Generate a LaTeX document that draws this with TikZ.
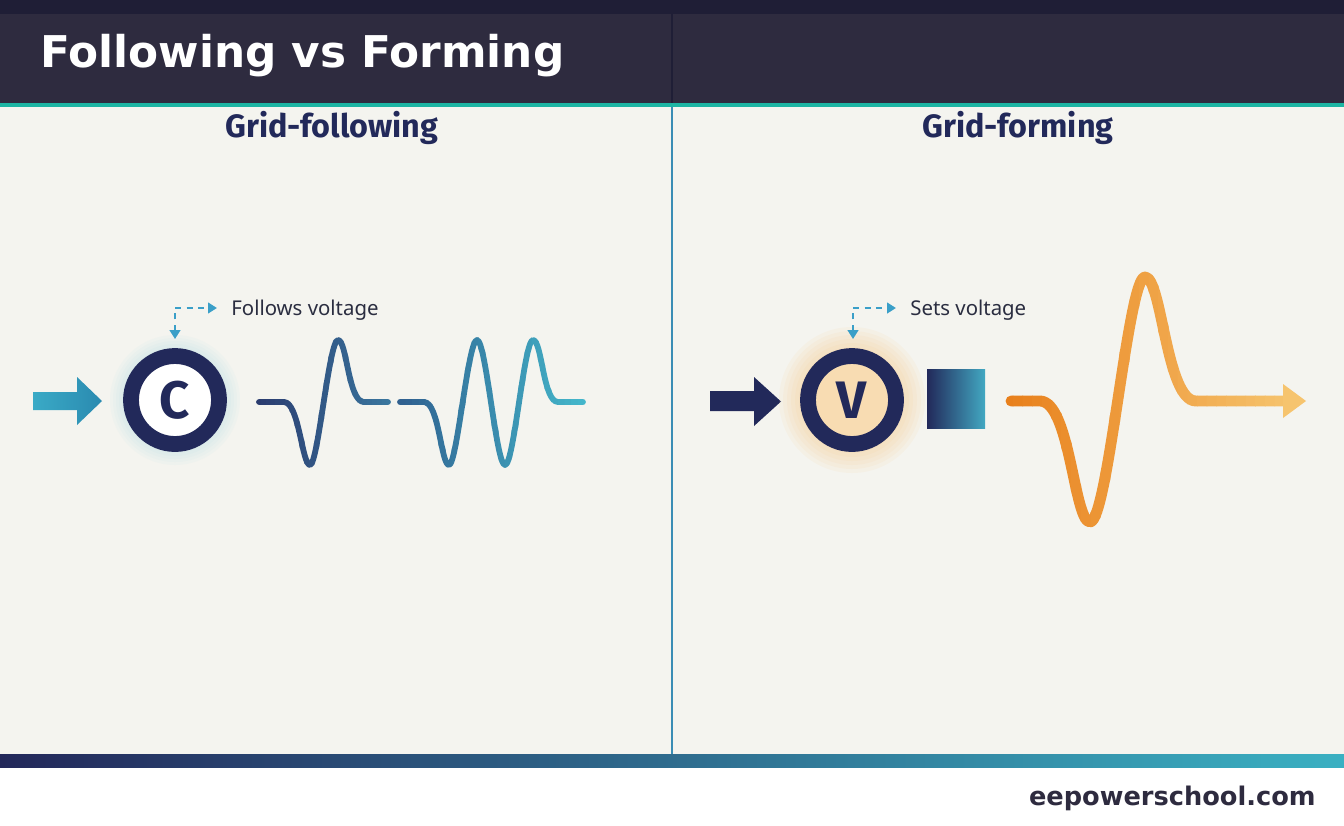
\documentclass[tikz,border=0pt]{standalone}
\usepackage{fontspec}
\setmainfont{Noto Sans}
\newfontfamily\titlefont{DejaVu Sans}
\newfontfamily\headfont{Fira Sans}
\usetikzlibrary{arrows.meta}

\definecolor{topstrip}{HTML}{1F1E36}
\definecolor{header}{HTML}{2E2B3F}
\definecolor{tealline}{HTML}{1CB5A3}
\definecolor{paper}{HTML}{F4F4EF}
\definecolor{divider}{HTML}{3A8DB5}
\definecolor{navy}{HTML}{22295A}
\definecolor{ink}{HTML}{2A2D40}
\definecolor{hint}{HTML}{3A9FC8}
\definecolor{barL}{HTML}{23285A}
\definecolor{barR}{HTML}{3AB0C2}
\definecolor{feedL}{HTML}{3AAAC6}
\definecolor{feedR}{HTML}{2A8AB0}
\definecolor{waveA}{HTML}{2A3A6E}
\definecolor{waveB}{HTML}{3A78A0}
\definecolor{waveC}{HTML}{2F5E8E}
\definecolor{waveD}{HTML}{44B9CC}
\definecolor{orangeA}{HTML}{E8801C}
\definecolor{orangeB}{HTML}{F6C46E}
\definecolor{peach}{HTML}{F8DCB2}
\definecolor{glowO}{HTML}{F5C27A}
\definecolor{glowB}{HTML}{A8DCEA}
\definecolor{boxR}{HTML}{42A8C2}

% stroke a path with a left-to-right colour ramp (clipped strips)
\newcommand{\gradpath}[6]{%
  \foreach \k in {0,...,29}{%
    \pgfmathsetmacro{\xa}{#2-8+\k*(#3-#2+16)/30}%
    \pgfmathsetmacro{\xb}{\xa+(#3-#2+16)/30+0.6}%
    \pgfmathtruncatemacro{\pc}{100*\k/29}%
    \begin{scope}
      \clip (\xa,0) rectangle (\xb,825);
      \draw[#6, draw=#5!\pc!#4] #1;
    \end{scope}
  }%
}

\begin{document}
\begin{tikzpicture}[x=0.02cm, y=-0.02cm,
    ring/.style={circle, draw=navy, line width=9pt, minimum size=1.76cm, inner sep=0pt,
                 font=\headfont\bfseries\fontsize{30}{30}\selectfont, text=navy},
    hintline/.style={draw=hint, line width=1.1pt, dash pattern=on 3.5pt off 3pt,
                     {Triangle[length=5pt,width=6pt]}-{Triangle[length=5pt,width=6pt]}},
    hintlabel/.style={anchor=base west, inner sep=0pt, text=ink,
                      font=\fontsize{11.6}{12}\selectfont},
    head/.style={anchor=base, inner sep=0pt, text=navy,
                 font=\headfont\bfseries\fontsize{18.4}{19}\selectfont},
    wave/.style={line width=3.3pt, line cap=round, line join=round},
    bigwave/.style={line width=6.2pt, line cap=round, line join=round}]

    % Wave paths (pixel coordinates)
    \def\wavea{(259,402) -- (284,402) .. controls (299,402) and (302,465) .. (310,465)
        .. controls (318,465) and (329,340) .. (338,340)
        .. controls (347,340) and (348,402) .. (364,402) -- (388,402)}
    \def\waveb{(400,402) -- (424,402) .. controls (439,402) and (441,465) .. (449,465)
        .. controls (457,465) and (468,340) .. (477,340)
        .. controls (486,340) and (496,465) .. (505,465)
        .. controls (514,465) and (524,340) .. (533,340)
        .. controls (542,340) and (543,402) .. (558,402) -- (583,402)}
    \def\wavec{(1011,401) -- (1040,401) .. controls (1070,401) and (1074,522) .. (1090,522)
        .. controls (1108,522) and (1128,277) .. (1145,277)
        .. controls (1162,277) and (1166,401) .. (1196,401) -- (1286,401)}

    \useasboundingbox (0,0) rectangle (1344,825);

    % Background bands
    \fill[white] (0,0) rectangle (1344,825);
    \fill[paper] (0,107) rectangle (1344,754);
    \fill[header] (0,0) rectangle (1344,103);
    \fill[topstrip] (0,0) rectangle (1344,14);
    \fill[tealline] (0,103) rectangle (1344,107);
    \shade[left color=barL, right color=barR] (0,754) rectangle (1344,767);
    \draw[topstrip, line width=1pt] (672,14) -- (672,103);
    \draw[divider, line width=1pt] (672,107) -- (672,754);

    % Title and headings
    \node[anchor=base west, inner sep=0pt, text=white,
          font=\titlefont\bfseries\fontsize{24.9}{25}\selectfont] (title) at (40,67) {Following vs Forming};
    \node[head] (gfl) at (332,137) {Grid-following};
    \node[head] (gfm) at (1018,137) {Grid-forming};
    \node[anchor=base east, inner sep=0pt, text=header,
          font=\titlefont\bfseries\fontsize{14.6}{15}\selectfont] (site) at (1316,805) {eepowerschool.com};

    % Grid-following side
    \shade[left color=feedL, right color=feedR]
        (33,392) -- (77,392) -- (77,377) -- (102,401) -- (77,425) -- (77,410) -- (33,410) -- cycle;
    \foreach \r in {53,56,...,65}
        \fill[glowB, opacity=0.07] (175,400) circle (\r);
    \node[ring, fill=white] (circC) at (175,400) {C};
    \coordinate (hintC) at (175,339);
    \node[hintlabel] (follows) at (231,315) {Follows voltage};
    \draw[hintline, shorten >=8pt] (hintC) |- (follows.west |- 0,308);
    \gradpath{\wavea}{259}{388}{waveA}{waveB}{wave}
    \gradpath{\waveb}{400}{583}{waveC}{waveD}{wave}

    % Grid-forming side
    \fill[navy] (710,391) -- (754,391) -- (754,377) -- (781,401.5) -- (754,426) -- (754,411) -- (710,411) -- cycle;
    \foreach \r in {53,57,...,73}
        \fill[glowO, opacity=0.08] (852,400) circle (\r);
    \node[ring, fill=peach] (circV) at (852,400) {V};
    \coordinate (hintV) at (853,339);
    \node[hintlabel] (sets) at (910,315) {Sets voltage};
    \draw[hintline, shorten >=8pt] (hintV) |- (sets.west |- 0,308);
    \shade[left color=navy, right color=boxR] (927,369) rectangle (985,428);
    \gradpath{\wavec}{1011}{1286}{orangeA}{orangeB}{bigwave}
    \fill[orangeB] (1283,384) -- (1306,401) -- (1283,418) -- cycle;

\end{tikzpicture}
\end{document}
